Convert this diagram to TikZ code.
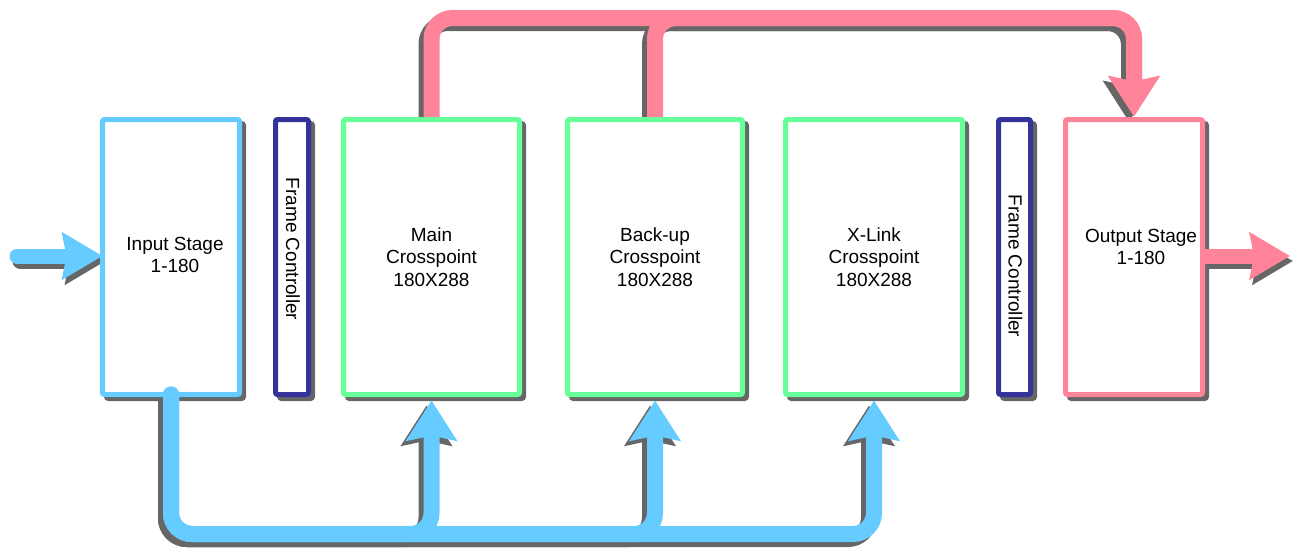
\documentclass[tikz,border=0pt]{standalone}
\usepackage{fontspec}
\setmainfont{Liberation Sans}
\usetikzlibrary{arrows.meta,shadows,calc}
\definecolor{bluec}{HTML}{66CCFF}
\definecolor{pinkc}{HTML}{FF8499}
\definecolor{greenc}{HTML}{66FF99}
\definecolor{navyc}{HTML}{333399}
\definecolor{shadowc}{HTML}{666666}
\pgfdeclarelayer{bg}
\pgfdeclarelayer{fg}
\pgfsetlayers{bg,main,fg}
\tikzset{
  box/.style={draw=#1, line width=5pt, fill=white, rounded corners=2pt,
    outer sep=0pt, inner sep=0pt, minimum height=275pt, align=center,
    font=\fontsize{19}{22.5}\selectfont,
    drop shadow={shadow xshift=4pt, shadow yshift=-4pt, fill=shadowc,
      draw=shadowc, line width=5pt, opacity=1}},
  txt/.style={font=\fontsize{19}{22.5}\selectfont, align=center, inner sep=0pt},
  conn/.style={line width=16pt, rounded corners=21pt,
    -{Stealth[length=40pt,width=50pt,inset=5pt]}},
  ioarrow/.style={line width=15pt,
    -{Stealth[length=40pt,width=46pt,inset=4pt]}},
  lbl/.style={font=\fontsize{19}{22.5}\selectfont, rotate=-90, inner sep=0pt}
}
\newcommand\conn[3][xshift=-5pt,yshift=-5pt]{%
  \begin{pgfonlayer}{bg}\draw[#2,color=shadowc,transform canvas={#1}] #3;\end{pgfonlayer}%
  \begin{pgfonlayer}{fg}\draw[#2] #3;\end{pgfonlayer}}
\begin{document}
\begin{tikzpicture}[x=1pt,y=-1pt]
\useasboundingbox (0,0) rectangle (1297,550);
% boxes
\node[box=bluec, minimum width=137pt] (inp) at (171,257) {};
\node[txt] (inpt) at (175,255) {Input Stage\\1-180};
\node[box=navyc, minimum width=33pt] (fc1) at (292,257) {};
\node[lbl] (fc1t) at (293,249) {Frame Controller};
\node[box=greenc, minimum width=176pt] (main) at (431.5,257) {Main\\Crosspoint\\180X288};
\node[box=greenc, minimum width=175pt] (bak) at (655,257) {Back-up\\Crosspoint\\180X288};
\node[box=greenc, minimum width=177pt] (xl) at (874,257) {X-Link\\Crosspoint\\180X288};
\node[box=navyc, minimum width=32pt] (fc2) at (1014.5,257) {};
\node[lbl] (fc2t) at (1015.5,266) {Frame Controller};
\node[box=pinkc, minimum width=137pt] (out) at (1134,257) {};
\node[txt] (outt) at (1141,247) {Output Stage\\1-180};
% helper coordinates
\coordinate (top) at (0,18);
\coordinate (bot) at (0,534);
\coordinate (ia) at (17,256);
\coordinate (oa) at (1290,256);
% input / output arrows
\conn[xshift=3pt,yshift=-5pt]{ioarrow,bluec,line cap=round}{(ia) -- (ia -| inp.west)}
\conn[xshift=3pt,yshift=-5pt]{ioarrow,pinkc}{(oa -| out.east) -- (oa)}
% top pink connectors
\conn{conn,pinkc}{([yshift=2.5pt]main.north) -- (main.north |- top) -- (out.north |- top) -- ([yshift=3pt]out.north)}
\conn{conn,pinkc}{([yshift=2.5pt]bak.north) -- (bak.north |- top) -- (out.north |- top) -- ([yshift=3pt]out.north)}
% bottom blue connectors
\conn{conn,bluec,line cap=round}{(inp.south) -- (inp.south |- bot) -- (main.south |- bot) -- ([yshift=-6pt]main.south)}
\conn{conn,bluec,line cap=round}{(inp.south) -- (inp.south |- bot) -- (bak.south |- bot) -- ([yshift=-6pt]bak.south)}
\conn{conn,bluec,line cap=round}{(inp.south) -- (inp.south |- bot) -- (xl.south |- bot) -- ([yshift=-6pt]xl.south)}
\end{tikzpicture}
\end{document}
